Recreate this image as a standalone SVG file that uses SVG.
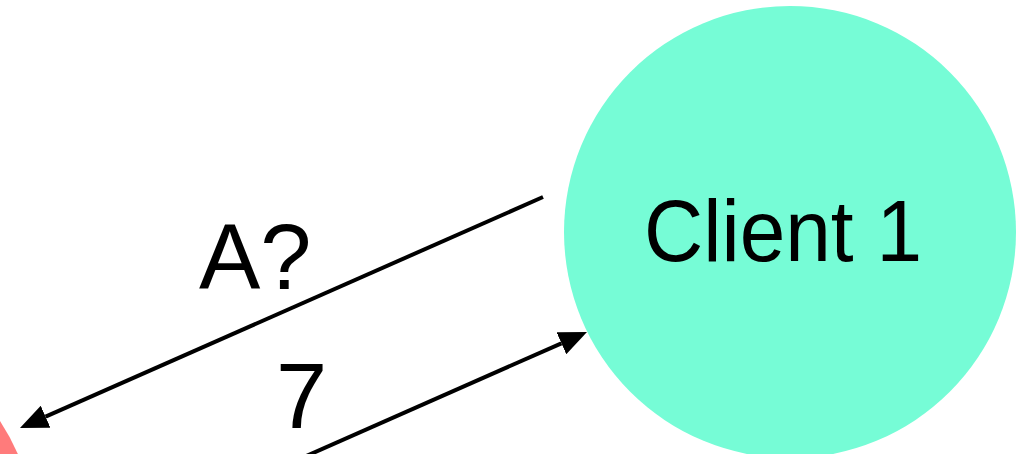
<svg xmlns="http://www.w3.org/2000/svg" width="1031" height="454" viewBox="0 0 1031 454">
  <style>
    .label { font-family: "Liberation Sans", Arial, sans-serif; fill: #000; }
    .edge { stroke: #000; stroke-width: 4; fill: none; }
  </style>
  <defs>
    <marker id="arrow" markerUnits="userSpaceOnUse" markerWidth="28" markerHeight="24" refX="0" refY="12" orient="auto">
      <path d="M0,0 L28,12 L0,24 z" fill="#000"/>
    </marker>
  </defs>
  <rect width="1031" height="454" fill="#fff"/>

  <g id="server">
    <circle cx="-189" cy="545" r="226" fill="#FF7B7B"/>
  </g>

  <g id="client1">
    <circle cx="790" cy="232" r="226" fill="#76FCD6"/>
    <text class="label" x="644" y="261" font-size="87" textLength="278" lengthAdjust="spacingAndGlyphs">Client 1</text>
  </g>

  <g id="connectors">
    <path class="edge" d="M543,197 L45.6,416.7" marker-end="url(#arrow)"/>
    <path class="edge" d="M278,468.5 L561.4,343.3" marker-end="url(#arrow)"/>
    <text class="label" x="199" y="289" font-size="92">A?</text>
    <text class="label" x="276" y="428" font-size="92">7</text>
  </g>
</svg>
